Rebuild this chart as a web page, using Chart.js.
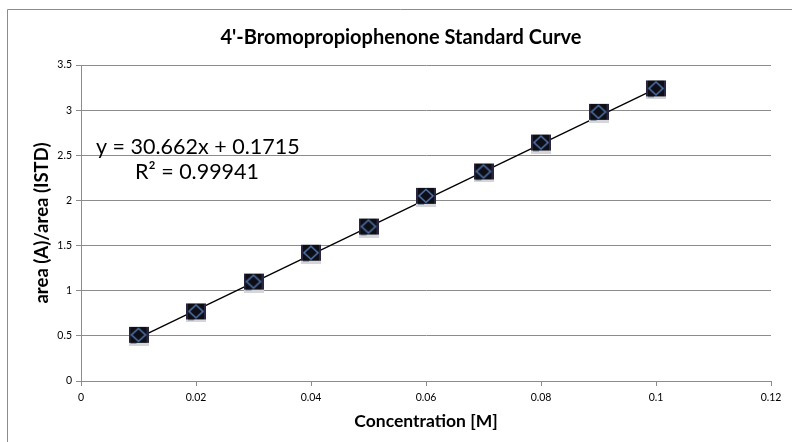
<!DOCTYPE html>
<html>
<head>
<meta charset="utf-8">
<script src="https://cdn.jsdelivr.net/npm/chart.js@4.4.1/dist/chart.umd.min.js"></script>
<style>
html,body{margin:0;padding:0;background:#fff;}
#wrap{position:relative;width:792px;height:442px;}
canvas{display:block;}
</style>
</head>
<body>
<div id="wrap"><canvas id="c" width="792" height="442"></canvas></div>
<script>
// ---- data ----
const concentrations = [0.01, 0.02, 0.03, 0.04, 0.05, 0.06, 0.07, 0.08, 0.09, 0.10];
const areaRatios = [0.50, 0.76, 1.09, 1.41, 1.70, 2.04, 2.31, 2.63, 2.97, 3.23];
const trendX = [0.01, 0.10];
const trendY = [0.478, 3.238];
const titleText = "4'-Bromopropiophenone Standard Curve";
const xTitle = "Concentration [M]";
const yTitle = "area (A)/area (ISTD)";
const equationText = "y = 30.662x + 0.1715";
const r2Text = "R\u00B2 = 0.99941";

// marker image (picture-style marker)
function makeMarker(){
  const m = document.createElement('canvas');
  m.width = 20; m.height = 20;
  const g = m.getContext('2d');
  g.fillStyle = '#0e0e16';
  g.fillRect(0, 1, 20, 16);
  g.fillStyle = '#2a2540';
  g.fillRect(0, 1, 2, 16);
  g.fillRect(18, 1, 2, 16);
  g.strokeStyle = '#4f73aa';
  g.lineWidth = 1.6;
  g.beginPath();
  g.moveTo(10, 2.5); g.lineTo(17, 9); g.lineTo(10, 15.5); g.lineTo(3, 9); g.closePath();
  g.stroke();
  g.fillStyle = '#d6d6da';
  g.fillRect(0, 17, 20, 3);
  g.fillStyle = '#7f93a3';
  g.fillRect(2, 17, 6, 1);
  return m;
}
const marker = makeMarker();

const frame = {
  id: 'frame',
  beforeDraw(chart){
    const ctx = chart.ctx;
    ctx.save();
    ctx.strokeStyle = '#8c8c8c';
    ctx.lineWidth = 1;
    ctx.beginPath();
    ctx.moveTo(7.5, 445); ctx.lineTo(7.5, 9.5); ctx.lineTo(795, 9.5);
    ctx.stroke();
    ctx.restore();
  },
  afterDatasetsDraw(chart){
    const ctx = chart.ctx;
    ctx.save();
    ctx.fillStyle = '#000';
    ctx.font = '21.5px Lato, "Open Sans", sans-serif';
    ctx.textBaseline = 'alphabetic';
    ctx.textAlign = 'left';
    ctx.fillText(equationText, 96, 154);
    ctx.fillText(r2Text, 135, 179);
    ctx.restore();
  }
};

const fam = 'Lato, "Open Sans", sans-serif';

new Chart(document.getElementById('c'), {
  type: 'scatter',
  data: {
    datasets: [
      {
        label: 'data',
        data: concentrations.map((x, i) => ({x: x, y: areaRatios[i]})),
        pointStyle: marker,
        pointRadius: 10,
        order: 1
      },
      {
        type: 'line',
        label: 'trend',
        data: trendX.map((x, i) => ({x: x, y: trendY[i]})),
        borderColor: '#000',
        borderWidth: 1.3,
        pointRadius: 0,
        showLine: true,
        fill: false,
        order: 2
      }
    ]
  },
  plugins: [frame],
  options: {
    responsive: false,
    animation: false,
    devicePixelRatio: 1,
    layout: {padding: {left: 31, right: 21, top: 0, bottom: 10}},
    plugins: {
      legend: {display: false},
      tooltip: {enabled: false},
      title: {
        display: true,
        text: titleText,
        color: '#000',
        font: {family: fam, size: 20, weight: 'bold', lineHeight: 1.2},
        padding: {top: 26, bottom: 15}
      }
    },
    scales: {
      x: {
        type: 'linear',
        min: 0, max: 0.12,
        ticks: {
          stepSize: 0.02,
          color: '#000',
          font: {family: fam, size: 10.5},
          padding: 5,
          maxRotation: 0,
          callback: v => String(Math.round(v * 100) / 100)
        },
        grid: {drawOnChartArea: false, drawTicks: true, tickLength: 5, color: '#8c8c8c'},
        border: {display: true, color: '#8c8c8c', width: 1},
        title: {
          display: true, text: xTitle, color: '#000',
          font: {family: fam, size: 17.5, weight: 'bold'},
          padding: {top: 0, bottom: 0}
        },
        afterFit(s){ s.height = 51; }
      },
      y: {
        type: 'linear',
        min: 0, max: 3.5,
        ticks: {
          stepSize: 0.5,
          color: '#000',
          font: {family: fam, size: 10.5},
          padding: 4,
          callback: v => String(Math.round(v * 10) / 10)
        },
        grid: {drawOnChartArea: true, drawTicks: true, tickLength: 5, color: '#8c8c8c'},
        border: {display: true, color: '#8c8c8c', width: 1},
        title: {
          display: true, text: yTitle, color: '#000',
          font: {family: fam, size: 18.5, weight: 'bold'},
          padding: {top: 0, bottom: 0}
        },
        afterFit(s){ s.width = 50; }
      }
    }
  }
});
</script>
</body>
</html>
